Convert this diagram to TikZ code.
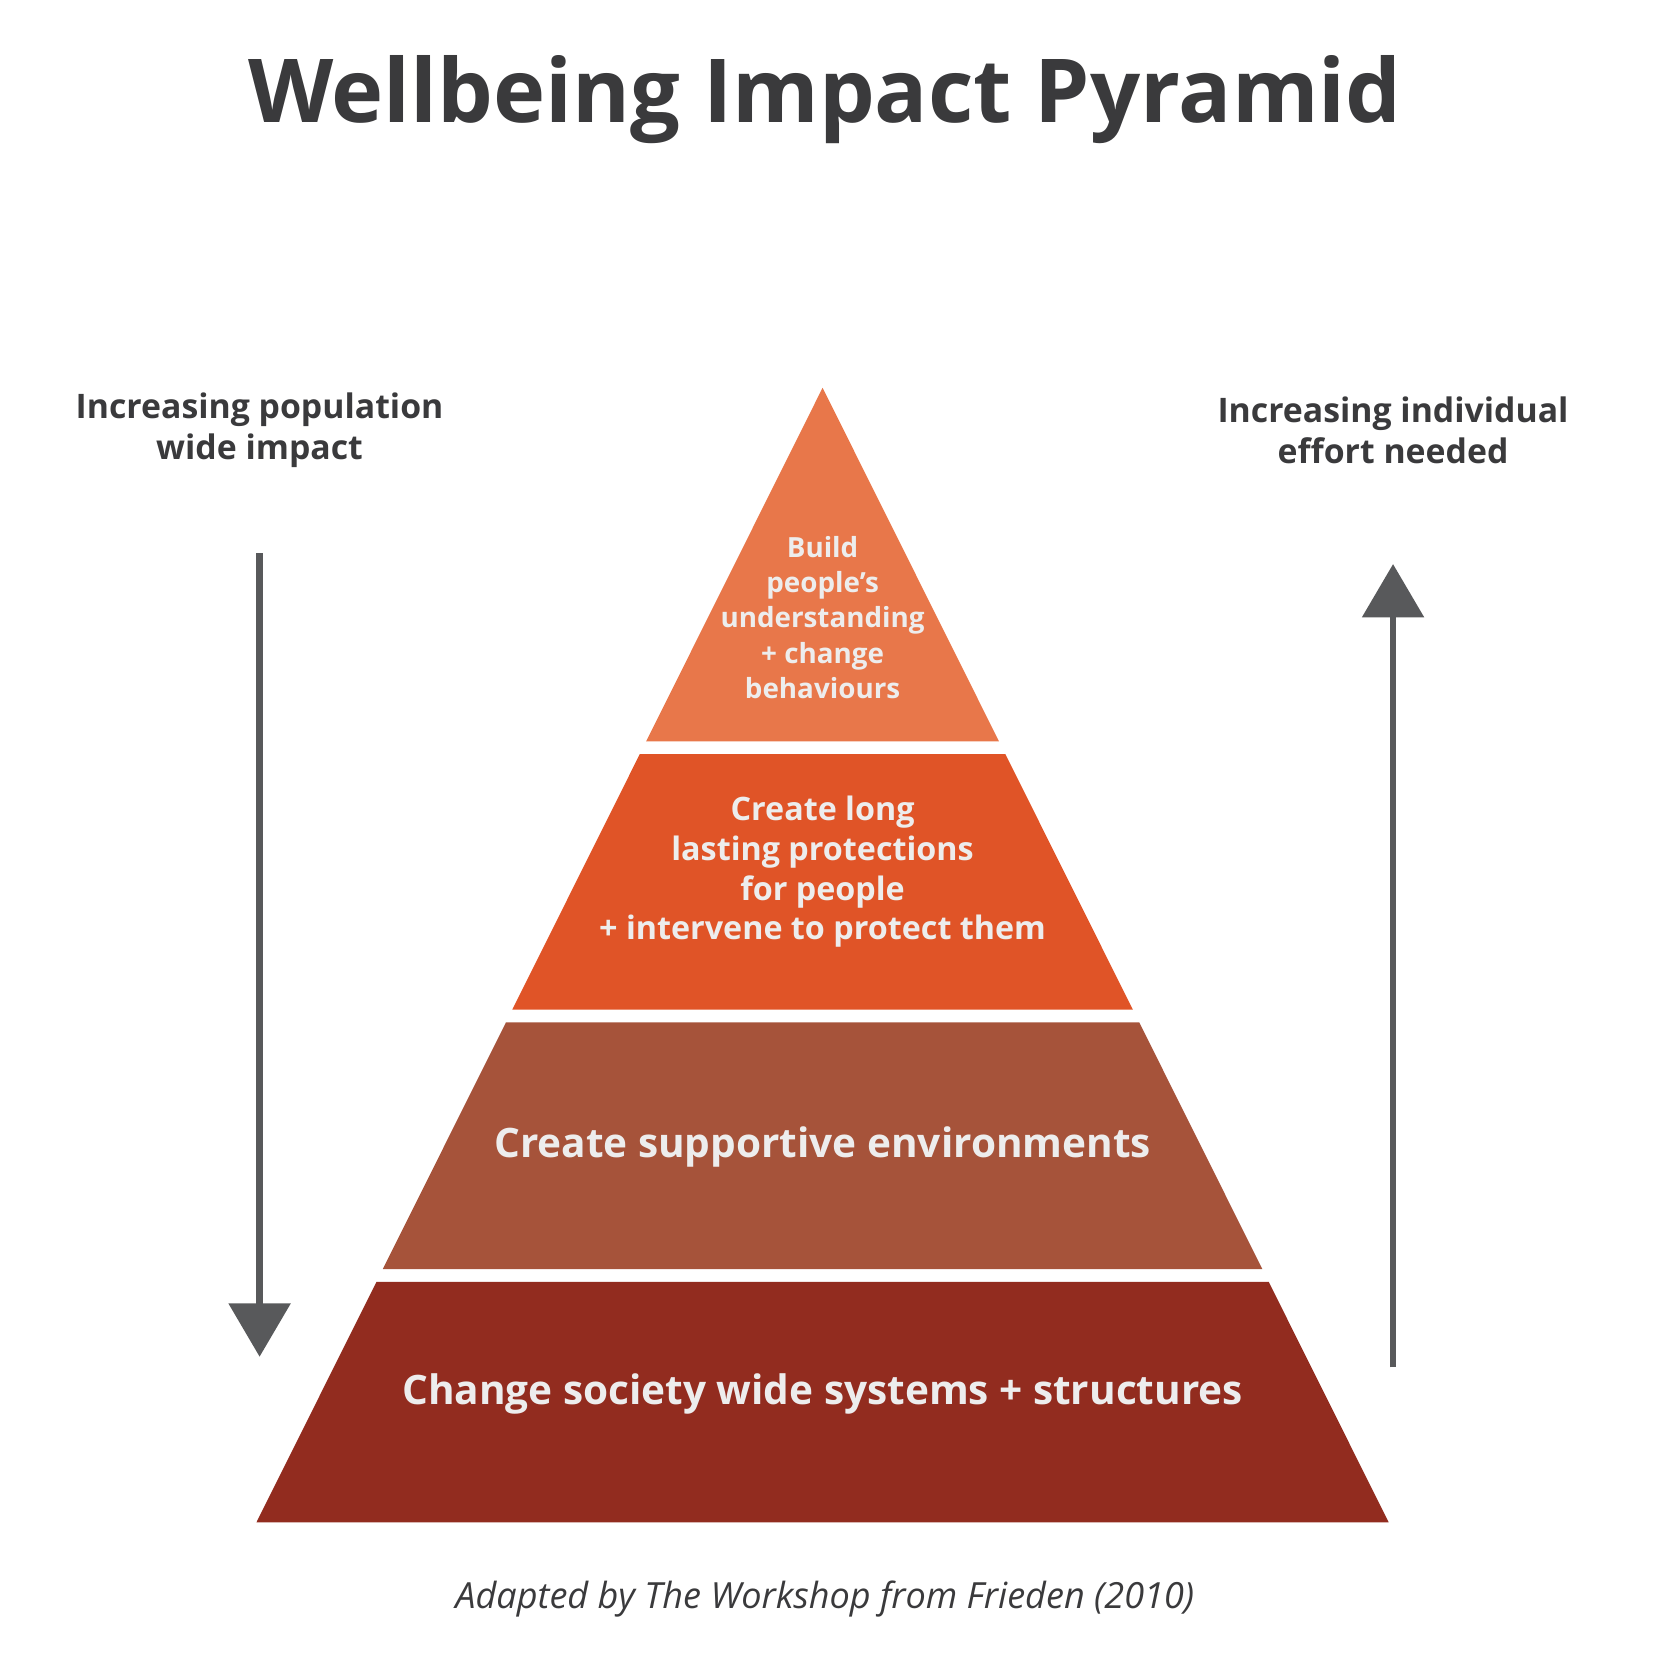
\documentclass[tikz,border=0pt]{standalone}
\usepackage{fontspec}
\setmainfont{Open Sans}
\usetikzlibrary{arrows.meta}
\definecolor{tierA}{HTML}{E8774A}
\definecolor{tierB}{HTML}{E05427}
\definecolor{tierC}{HTML}{A6533A}
\definecolor{tierD}{HTML}{922C1F}
\definecolor{inkgrey}{HTML}{3A3A3C}
\definecolor{arrowgrey}{HTML}{58595B}
\tikzset{
    tiertext/.style={text=white!93!black, font=\bfseries, align=center},
    sidetext/.style={text=inkgrey, font=\fontsize{9}{11}\selectfont\bfseries, align=center},
    bigarrow/.style={draw=arrowgrey, line width=0.06cm, -{Triangle[width=0.57cm,length=0.5cm]}}
}
\newcommand{\hw}[1]{(#1-3.63)*0.499}
\begin{document}
\begin{tikzpicture}[x=1cm,y=-1cm]
  \useasboundingbox (0,0) rectangle (15.47,15.67);
  % pyramid tiers
  \fill[tierA] (7.70,3.63) -- ({7.70+\hw{6.94}},6.94) -- ({7.70-\hw{6.94}},6.94) -- cycle;
  \fill[tierB] ({7.70-\hw{7.06}},7.06) -- ({7.70+\hw{7.06}},7.06) -- ({7.70+\hw{9.45}},9.45) -- ({7.70-\hw{9.45}},9.45) -- cycle;
  \fill[tierC] ({7.70-\hw{9.57}},9.57) -- ({7.70+\hw{9.57}},9.57) -- ({7.70+\hw{11.88}},11.88) -- ({7.70-\hw{11.88}},11.88) -- cycle;
  \fill[tierD] ({7.70-\hw{12.00}},12.00) -- ({7.70+\hw{12.00}},12.00) -- ({7.70+\hw{14.25}},14.25) -- ({7.70-\hw{14.25}},14.25) -- cycle;
  % texts
  \node (title) [text=inkgrey, font=\fontsize{23.5}{28}\selectfont\bfseries] at (7.72,0.93) {Wellbeing Impact Pyramid};
  \node (build) [tiertext, font=\fontsize{7.4}{9.4}\selectfont\bfseries] at (7.70,5.78) {Build\\people’s\\understanding\\+ change\\behaviours};
  \node (protect) [tiertext, font=\fontsize{8.6}{10.6}\selectfont\bfseries] at (7.70,8.16) {Create long\\lasting protections\\for people\\+ intervene to protect them};
  \node (support) [tiertext, font=\fontsize{10.8}{13}\selectfont\bfseries] at (7.70,10.74) {Create supportive environments};
  \node (society) [tiertext, font=\fontsize{10.8}{13}\selectfont\bfseries] at (7.70,13.05) {Change society wide systems + structures};
  \node (popimpact) [sidetext] at (2.43,4.03) {Increasing population\\wide impact};
  \node (effort) [sidetext] at (13.04,4.03) {Increasing individual\\effort needed};
  \node (source) [text=inkgrey, font=\fontsize{9.6}{12}\selectfont\itshape] at (7.72,14.97) {Adapted by The Workshop from Frieden (2010)};
  % arrows
  \coordinate (downtop) at (2.43,5.18);
  \coordinate (downend) at (2.43,12.70);
  \coordinate (upbottom) at (13.04,12.80);
  \coordinate (upend) at (13.04,5.28);
  \draw[bigarrow] (downtop) -- (downend);
  \draw[bigarrow] (upbottom) -- (upend);
\end{tikzpicture}
\end{document}
